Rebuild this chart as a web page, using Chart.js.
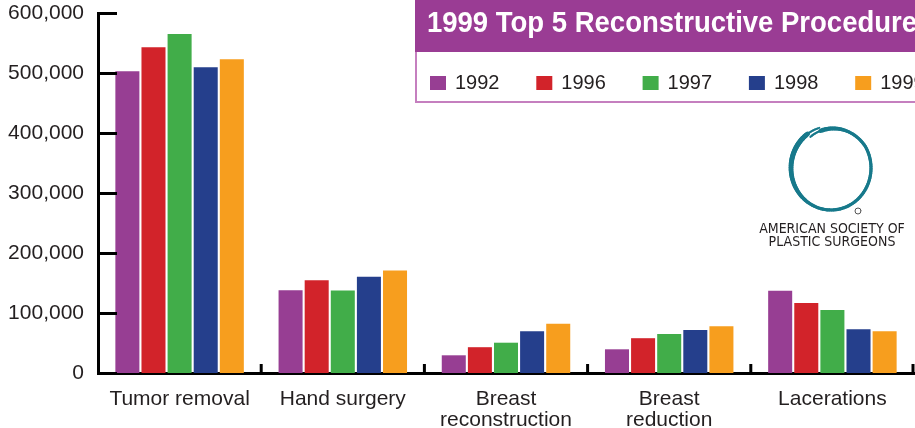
<!DOCTYPE html>
<html>
<head>
<meta charset="utf-8">
<script src="https://cdn.jsdelivr.net/npm/chart.js@4/dist/chart.umd.min.js"></script>
<style>
  html, body { margin: 0; padding: 0; background: #fff; }
  #wrap { position: relative; width: 915px; height: 428px; }
</style>
</head>
<body>
<div id="wrap"><canvas id="procChart" width="915" height="428"></canvas></div>
<script>
// categories and values
const procedures = ["Tumor removal", "Hand surgery", ["Breast", "reconstruction"], ["Breast", "reduction"], "Lacerations"];
const years = ["1992", "1996", "1997", "1998", "1999"];
const yearColors = ["#973e93", "#d2232a", "#41ad49", "#253f8c", "#f79e1e"];

const values1992 = [503000, 138000, 29500, 39500, 137000];
const values1996 = [543000, 154500, 43000, 58000, 116500];
const values1997 = [565000, 137500, 50500, 65000, 105000];
const values1998 = [509500, 160500, 69500, 71500, 73000];
const values1999 = [523000, 171000, 82000, 78000, 69500];

const yTicks = [0, 100000, 200000, 300000, 400000, 500000, 600000];
const chartTitle = "1999 Top 5 Reconstructive Procedures";
const logoLines = ["AMERICAN SOCIETY OF", "PLASTIC SURGEONS"];

const textColor = "#231f20";
const fontFace = '"Liberation Sans", Arial, sans-serif';
const narrowFace = '"Liberation Sans Narrow", "DejaVu Sans Condensed", "Liberation Sans", sans-serif';

// short inward tick marks on both axes, like the print version
const axisMarks = {
  id: "axisMarks",
  afterDatasetsDraw(chart) {
    const { ctx, chartArea, scales } = chart;
    ctx.save();
    ctx.strokeStyle = "#000";
    ctx.lineWidth = 3;
    yTicks.forEach((v) => {
      const y = Math.round(scales.y.getPixelForValue(v)) + 0.5;
      ctx.beginPath();
      ctx.moveTo(chartArea.left, y);
      ctx.lineTo(chartArea.left + 19, y);
      ctx.stroke();
    });
    const xs = scales.x;
    const n = procedures.length;
    for (let i = 0; i < n; i++) {
      let bx;
      if (i < n - 1) bx = (xs.getPixelForValue(i) + xs.getPixelForValue(i + 1)) / 2;
      else bx = chartArea.right - 1;
      ctx.beginPath();
      ctx.moveTo(bx, chartArea.bottom);
      ctx.lineTo(bx, chartArea.bottom - 9);
      ctx.stroke();
    }
    ctx.restore();
  },
};

// title bar + legend box in the upper right, and the society logo
const legendBox = {
  id: "legendBox",
  afterDraw(chart) {
    const ctx = chart.ctx;
    ctx.save();
    // legend frame
    ctx.fillStyle = "#fff";
    ctx.fillRect(415, 52, 500, 51);
    ctx.strokeStyle = "#c57fbf";
    ctx.lineWidth = 2;
    ctx.beginPath();
    ctx.moveTo(416, 52);
    ctx.lineTo(416, 102);
    ctx.lineTo(915, 102);
    ctx.stroke();
    // title bar
    ctx.fillStyle = "#9a3c94";
    ctx.fillRect(415, 0, 500, 52);
    ctx.fillStyle = "#fff";
    ctx.font = "bold 30px " + fontFace;
    ctx.textBaseline = "alphabetic";
    ctx.textAlign = "left";
    // squeeze it so "...Procedure" ends at the right edge like the print
    const w = ctx.measureText(chartTitle.slice(0, -1)).width;
    const sx = 490 / w;
    ctx.save();
    ctx.translate(427, 32);
    ctx.scale(sx, 1);
    ctx.fillText(chartTitle, 0, 0);
    ctx.restore();

    // legend items
    ctx.font = "20px " + fontFace;
    years.forEach((yr, i) => {
      const x = 430 + i * 106.3;
      ctx.fillStyle = yearColors[i];
      ctx.fillRect(x, 76, 16, 14);
      ctx.fillStyle = textColor;
      ctx.fillText(yr, x + 25, 89);
    });

    // logo ring: one stroke that overlaps itself near the top-left
    ctx.strokeStyle = "#17798b";
    ctx.lineCap = "round";
    const a0 = -125 * Math.PI / 180;
    const a1 = a0 + 2 * Math.PI + 18 * Math.PI / 180;
    const steps = 120;
    for (let s = 0; s < steps; s++) {
      const t0 = s / steps, t1 = (s + 1) / steps;
      const p = (t) => {
        const a = a0 + (a1 - a0) * t;
        const grow = t < 0.25 ? -4 + 16 * t : 0;
        return [831 + (40 + grow) * Math.cos(a), 168 + (42 + grow) * Math.sin(a)];
      };
      const [xA, yA] = p(t0), [xB, yB] = p(t1);
      const mid = a0 + (a1 - a0) * (t0 + t1) / 2;
      // heavier on the left/bottom, thin at the ends
      let lw = 3.2 + 1.8 * Math.max(0, -Math.cos(mid - 0.5));
      if (t0 < 0.05 || t1 > 0.95) lw = 2;
      ctx.lineWidth = lw;
      ctx.beginPath();
      ctx.moveTo(xA, yA);
      ctx.lineTo(xB, yB);
      ctx.stroke();
    }
    ctx.strokeStyle = "#555";
    ctx.lineWidth = 1;
    ctx.beginPath();
    ctx.arc(858, 211, 3, 0, Math.PI * 2);
    ctx.stroke();

    ctx.fillStyle = textColor;
    ctx.font = "14px " + narrowFace;
    ctx.textAlign = "center";
    ctx.fillText(logoLines[0], 832, 233, 156);
    ctx.fillText(logoLines[1], 832, 246, 131);
    ctx.restore();
  },
};

const ctx = document.getElementById("procChart").getContext("2d");
const seriesValues = [values1992, values1996, values1997, values1998, values1999];

new Chart(ctx, {
  type: "bar",
  data: {
    labels: procedures,
    datasets: years.map((yr, i) => ({
      label: yr,
      data: seriesValues[i],
      backgroundColor: yearColors[i],
      borderWidth: 0,
      categoryPercentage: 0.8,
      barPercentage: 0.92,
    })),
  },
  options: {
    responsive: false,
    animation: false,
    layout: { padding: { top: 13, right: 1, left: 0, bottom: 0 } },
    plugins: {
      legend: { display: false },
      tooltip: { enabled: false },
    },
    scales: {
      x: {
        grid: { display: false, drawTicks: false },
        border: { color: "#000", width: 3 },
        ticks: {
          color: textColor,
          font: { family: fontFace, size: 21, lineHeight: 1.0 },
          padding: 16,
          maxRotation: 0,
          autoSkip: false,
        },
        afterFit: (scale) => { scale.height = 55; },
      },
      y: {
        min: 0,
        max: 600000,
        grid: { display: false, drawTicks: false },
        border: { color: "#000", width: 3 },
        afterBuildTicks: (scale) => { scale.ticks = yTicks.map((v) => ({ value: v })); },
        ticks: {
          color: textColor,
          font: { family: fontFace, size: 21 },
          padding: 14,
          callback: (v) => Number(v).toLocaleString("en-US"),
        },
        afterFit: (scale) => {
          scale.width = 98;
          scale.paddingTop = 0;
          scale.paddingBottom = 0;
        },
      },
    },
  },
  plugins: [axisMarks, legendBox],
});
</script>
</body>
</html>
